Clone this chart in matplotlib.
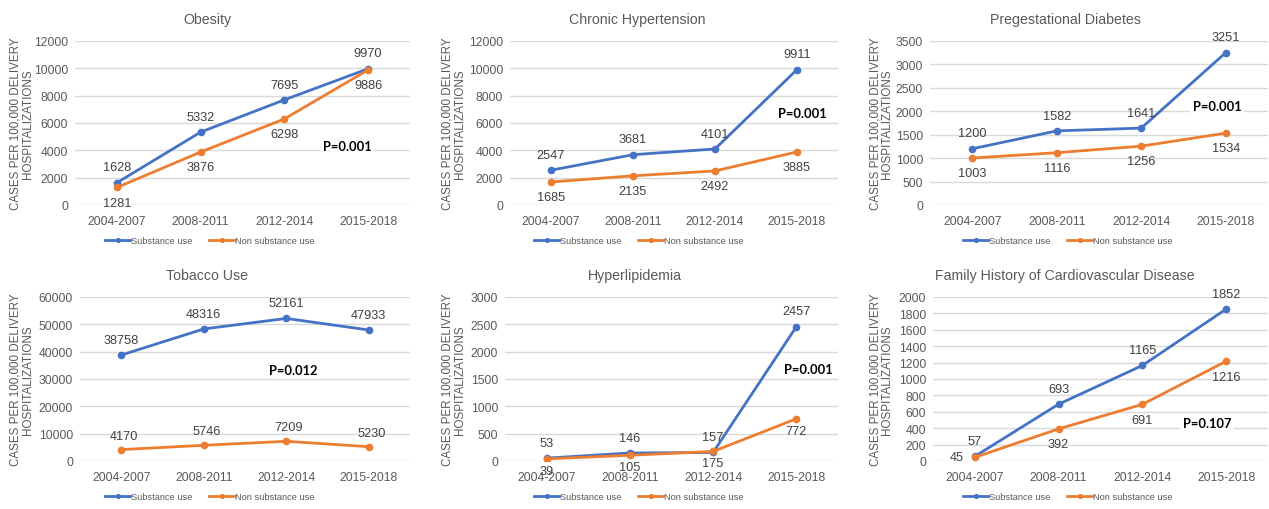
import matplotlib
matplotlib.use('Agg')
import matplotlib.pyplot as plt

plt.rcParams['font.family'] = ['Liberation Sans', 'DejaVu Sans']

periods = ['2004-2007', '2008-2011', '2012-2014', '2015-2018']

titles = ['Obesity', 'Chronic Hypertension', 'Pregestational Diabetes',
          'Tobacco Use', 'Hyperlipidemia', 'Family History of Cardiovascular Disease']

substance = [
    [1628, 5332, 7695, 9970],
    [2547, 3681, 4101, 9911],
    [1200, 1582, 1641, 3251],
    [38758, 48316, 52161, 47933],
    [53, 146, 157, 2457],
    [57, 693, 1165, 1852],
]
non_substance = [
    [1281, 3876, 6298, 9886],
    [1685, 2135, 2492, 3885],
    [1003, 1116, 1256, 1534],
    [4170, 5746, 7209, 5230],
    [39, 105, 175, 772],
    [45, 392, 691, 1216],
]

y_max = [12000, 12000, 3500, 60000, 3000, 2000]
y_step = [2000, 2000, 500, 10000, 500, 200]

p_values = ['P=0.001', 'P=0.001', 'P=0.001', 'P=0.012', 'P=0.001', 'P=0.107']
p_pos = [(2.75, 4300), (3.07, 6700), (2.9, 2110), (2.08, 33300), (3.14, 1680), (2.77, 460)]

# where the non-substance labels go: below, except tobacco (above)
orange_above = [False, False, False, True, False, False]

BLUE = '#4472C4'
ORANGE = '#ED7D31'
GRAY = '#595959'
W, H = 1269, 510

# axes boxes in pixels: left, right, top, bottom
boxes = [
    (75, 410, 42, 206), (510, 838, 42, 206), (930, 1268, 42, 206),
    (80, 410, 298, 462), (505, 838, 298, 462), (933, 1268, 298, 462),
]
title_xy = [(207, 20), (637, 20), (1065, 20), (207, 276), (635, 276), (1065, 276)]
ylab_x = [22, 454, 881, 22, 454, 881]
legend_xy = [(210, 242), (639, 242), (1068, 242), (210, 498), (639, 498), (1068, 498)]

fig = plt.figure(figsize=(W / 100, H / 100), dpi=100)

for i in range(6):
    l, r, t, b = boxes[i]
    ax = fig.add_axes([l / W, 1 - b / H, (r - l) / W, (b - t) / H])
    x = range(len(periods))
    ax.plot(x, substance[i], color=BLUE, lw=2, marker='o', ms=4.5, label='Substance use')
    ax.plot(x, non_substance[i], color=ORANGE, lw=2, marker='o', ms=4.5, label='Non substance use')

    ax.set_xlim(-0.5, 3.5)
    ax.set_ylim(0, y_max[i])
    ax.set_yticks(range(0, y_max[i] + 1, y_step[i]))
    ax.set_xticks(list(x))
    ax.set_xticklabels(periods)
    ax.tick_params(length=0, colors=GRAY, labelsize=8.7)
    ax.tick_params(axis='x', pad=7)
    ax.tick_params(axis='y', pad=5)
    ax.grid(axis='y', color='#D9D9D9', lw=1)
    ax.set_axisbelow(True)
    for s in ax.spines.values():
        s.set_visible(False)

    for j in x:
        ax.annotate(str(substance[i][j]), (j, substance[i][j]), xytext=(0, 11),
                    textcoords='offset points', ha='center', va='center',
                    fontsize=9.2, color='#404040')
        if i == 5 and j == 0:
            off = (-13, 0)
        elif orange_above[i]:
            off = (2, 10)
        elif i == 4:
            off = (0, -8.5)
        else:
            off = (0, -11)
        ax.annotate(str(non_substance[i][j]), (j, non_substance[i][j]), xytext=off,
                    textcoords='offset points', ha='center', va='center',
                    fontsize=9.2, color='#404040')

    ax.text(p_pos[i][0], p_pos[i][1], p_values[i], ha='center', va='center',
            fontsize=9.3, fontweight='bold', family=['Lato', 'DejaVu Sans'], color='black',
            bbox=dict(facecolor='white', edgecolor='none', pad=2))

    fig.text(title_xy[i][0] / W, 1 - title_xy[i][1] / H, titles[i], ha='center', va='center',
             fontsize=10.2, color=GRAY)
    fig.text(ylab_x[i] / W, 1 - ((t + b) / 2) / H, 'CASES PER 100,000 DELIVERY\nHOSPITALIZATIONS',
             rotation=90, ha='center', va='center', fontsize=8.4, color=GRAY, linespacing=1.0)

    fig.legend(handles=ax.get_lines(), loc='center',
               bbox_to_anchor=(legend_xy[i][0] / W, 1 - legend_xy[i][1] / H),
               ncol=2, frameon=False, fontsize=6.7, handlelength=2.7, handletextpad=0.1,
               columnspacing=1.8, markerscale=0.6, labelcolor=GRAY)

fig.savefig('out.png', dpi=100)
